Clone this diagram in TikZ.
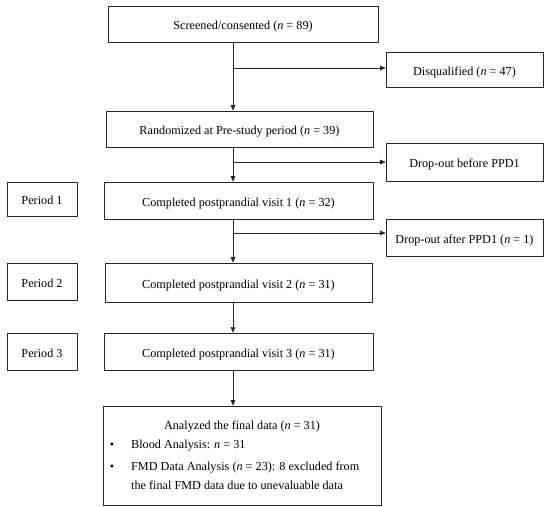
\documentclass[tikz,border=0pt]{standalone}
\usepackage{fontspec}
\setmainfont{Liberation Serif}
\usetikzlibrary{arrows.meta}
\tikzset{
  box/.style={draw=black!85, line width=0.6pt, inner sep=0pt, align=center,
    text height=12pt, text depth=1pt,
    font=\fontsize{12.2}{14}\selectfont},
  arr/.style={draw=black!85, line width=0.6pt, -{Triangle[length=5.5pt,width=4.5pt]}},
  txt/.style={inner sep=0pt, anchor=base west, font=\fontsize{12.2}{14}\selectfont},
}
\newcommand{\nn}{\textit{n}}
\begin{document}
\begin{tikzpicture}[x=1pt,y=-1pt]
\useasboundingbox (0,0) rectangle (550,507);
% main column
\node[box, minimum width=270pt, minimum height=36pt] (scr) at (243,24) {Screened/consented (\nn{} = 89)};
\node[box, minimum width=157pt, minimum height=35pt] (dis) at (464.5,69.5) {Disqualified (\nn{} = 47)};
\node[box, minimum width=267pt, minimum height=36pt] (rand) at (239.5,129) {Randomized at Pre-study period (\nn{} = 39)};
\node[box, minimum width=157pt, minimum height=38pt] (drop1) at (464.5,162) {Drop-out before PPD1};
\node[box, minimum width=70pt, minimum height=34pt] (p1) at (42,199) {Period 1};
\node[box, minimum width=269pt, minimum height=37pt] (c1) at (238.5,200.5) {Completed postprandial visit 1 (\nn{} = 32)};
\node[box, minimum width=157pt, minimum height=37pt] (drop2) at (464.5,237.5) {Drop-out after PPD1 (\nn{} = 1)};
\node[box, minimum width=70pt, minimum height=37pt] (p2) at (42,281.5) {Period 2};
\node[box, minimum width=267pt, minimum height=39pt] (c2) at (238.5,282.5) {Completed postprandial visit 2 (\nn{} = 31)};
\node[box, minimum width=70pt, minimum height=37pt] (p3) at (42,351.5) {Period 3};
\node[box, minimum width=269pt, minimum height=37pt] (c3) at (238.5,351.5) {Completed postprandial visit 3 (\nn{} = 31)};
\node[draw=black!85, line width=0.6pt, minimum width=278pt, minimum height=99pt, inner sep=0pt] (fin) at (242,455.5) {};
% final box contents
\node[txt, anchor=base] (ft) at (242,429) {Analyzed the final data (\nn{} = 31)};
\node[txt, anchor=base] (b1) at (112,448) {\textbullet};
\node[txt] (t1) at (131,448) {Blood Analysis: \nn{} = 31};
\node[txt, anchor=base] (b2) at (112,470) {\textbullet};
\node[txt] (t2) at (131,470) {FMD Data Analysis (\nn{} = 23): 8 excluded from};
\node[txt] (t3) at (131,489) {the final FMD data due to unevaluable data};
% connectors
\coordinate (mx) at (233,0);
\coordinate (br1) at (233,68);
\coordinate (br2) at (233,162);
\coordinate (br3) at (233,233);
\draw[arr] (scr.south -| mx) -- (rand.north -| mx);
\draw[arr] (br1) -- (br1 -| dis.west);
\draw[arr] (rand.south -| mx) -- (c1.north -| mx);
\draw[arr] (br2) -- (br2 -| drop1.west);
\draw[arr] (c1.south -| mx) -- (c2.north -| mx);
\draw[arr] (br3) -- (br3 -| drop2.west);
\draw[arr] (c2.south -| mx) -- (c3.north -| mx);
\draw[arr] (c3.south -| mx) -- (fin.north -| mx);
\end{tikzpicture}
\end{document}
